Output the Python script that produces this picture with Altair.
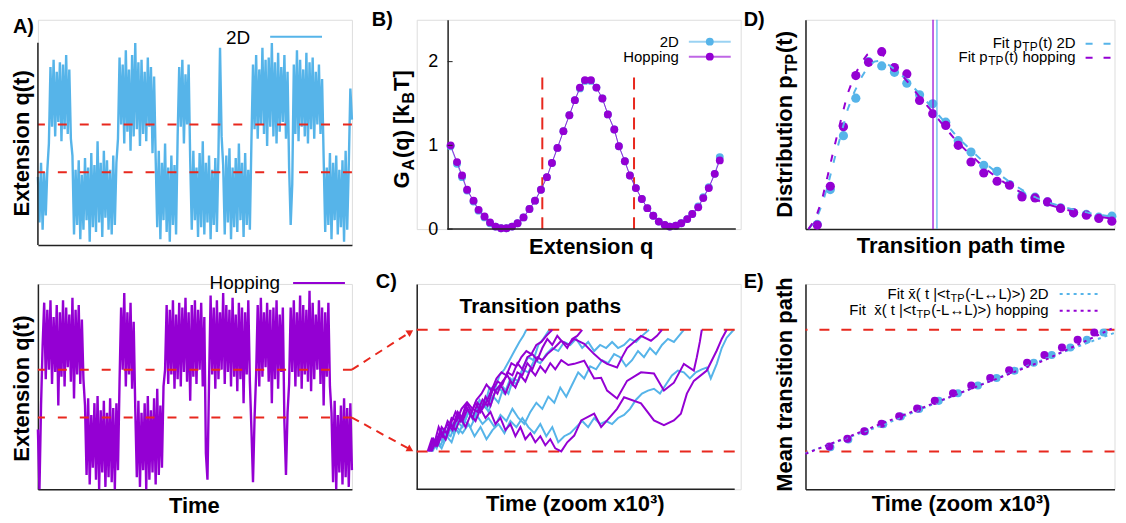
import altair as alt
import pandas as pd

FONT = "Liberation Sans"
BLUE = "#56B4E9"
PURPLE = "#9400D3"
RED = "#E8281E"
AX = "#222222"

# ---------------- data ----------------
# A) extension time series (state-hopping traces), sampled every 5 time units
Q_2D = [-1.2, -3.1, -0.6, -3.4, -1.0, -2.8, -0.9,
        0.2, 3.4, 0.9, 3.7, 0.5, 3.2, 1.1, 3.6, 0.3, 3.5, 0.8, 3.9, 0.6, 3.3, 0.4,
        -0.3, -3.6, -0.9, -3.2, -0.5, -3.8, -1.1, -3.4, -0.4, -3.0, -0.8, -3.9, -0.2, -3.3, -0.7,
        -3.5, 0.3, -3.1, -0.6, -3.7, -0.1, -2.9, -0.5, -3.4, -0.9, -3.6, -0.3, -3.2, -0.6,
        0.4, 3.8, 1.0, 3.5, 0.2, 4.1, 0.7, 3.3, -0.1, 3.9, 0.5, 4.4, 0.8, 3.6, 0.1, 3.7, 0.6, 3.2,
        0.3, 3.8, 0.9, 3.4, -0.2, 3.0,
        -0.4, -3.3, -0.1, -3.8, -0.6, -3.0, 0.2, -3.5, -0.8, -3.9, -0.3, -3.2, -0.7, -3.6,
        0.5, 3.4, 0.9, 3.7, 0.2, 3.1, 1.0, 3.5,
        -0.5, -3.4, -0.1, -3.0, -0.8, -3.7, -0.2, -3.3, 0.3, -3.6, -0.6, -3.1, -0.3, -3.8, -0.9,
        -3.2, -0.4, -3.5, -0.2,
        4.2, 0.5,
        -0.7, -3.6, -0.3, -3.1, 0.0, -3.8, -0.8, -3.3, -0.4, -3.5, 0.2, -3.0, -0.6, -3.7, -0.2,
        -3.2, -0.9, -3.4,
        0.3, 3.5, 0.8, 3.9, 0.4, 3.3, 1.0, 4.2, 0.6, 3.7, 0.1, 3.8, 0.9, 4.4, 0.5, 3.6, 0.2, 4.0,
        0.7, 3.4, 1.1, 3.9, 0.4, 3.2, -0.8, -3.2, -1.5, 3.5, 0.6, 4.1, 0.3, 3.7, 0.9, 3.3, 0.5,
        4.0, 0.2, 3.6, 0.8, 3.8, 0.4, 3.2, 1.0, 3.5, 0.6, 2.9,
        -0.4, -3.5, -0.8, -3.2, -0.2, -3.8, -0.6, -3.0, -0.3, -3.6, -0.9, -3.3, -0.5, -3.9, -0.1,
        -3.4, -0.7,
        2.5, 1.2]
Q_HOP = [-1.5, -4.0, -0.5,
         2.0, 3.8, 0.6, 3.5, 1.0, 3.9, 0.4, 3.2, 0.9, 3.7, -0.5, 3.4, 0.7, 3.9, 0.3, 3.6, 1.1,
         3.3, 0.5, 4.0, -0.2, 3.5, 0.8, 3.7, 0.4, 3.1, 0.6,
         -0.5, -3.4, -0.2, -3.8, -0.9, -3.1, -0.4, -3.6, -0.1, -4.0, -0.7, -3.3, -0.3, -3.9, -0.8,
         -3.5, -0.2, -3.7, -0.6, -4.0, -0.4, -3.2,
         0.5, 3.6, 1.0, 4.2, 0.3, 3.4, 0.8, 3.8, 0.2, 3.0,
         -0.6, -3.5, -0.3, -3.9, -0.8, -3.2, -0.4, -4.0, -0.1, -3.6, -0.7, -3.3, -0.2, -3.8, 0.2,
         -3.4, -0.5, -3.1, 0.3,
         1.0, 3.7, 0.4, 3.5, 0.8, 3.9, 0.2, 3.3, 0.6, 3.8, 0.3, 3.6, 0.9, 4.0, 0.5, 3.4, -0.3,
         3.7, 0.7, 3.9, 0.4, 3.5, 1.0, 3.8, 0.3, 3.2,
         -2.5, -3.6,
         0.5, 4.1, 0.8, 3.6, 0.2, 3.9, 0.6, 3.4, 1.0, 4.2, 0.4, 3.7, 0.9, 3.5, 0.3, 4.0, 0.7, 3.3,
         0.1, 3.8, 0.6, 3.6, -0.4, 3.4, 0.8, 3.9, 0.5,
         -1.5, -3.7, -1.0,
         0.8, 3.7, 0.3, 4.0, 0.7, 3.4, 1.1, 3.8, 0.5, 3.5, -0.4, 3.6, 0.6, 3.9, 0.2, 3.3, 0.9, 3.6,
         -1.2, -3.4, -0.8,
         0.4, 3.6, 0.9, 3.9, 0.3, 3.4, 0.7, 4.1, 0.2, 3.7, 0.8, 3.5, 0.5, 4.3, 0.1, 3.8, 0.6, 3.3,
         1.0, 3.9, 0.4, 3.6, -0.5, 3.4, 0.7, 3.8, 0.3,
         -0.8, -3.7, -0.3, -4.0, -0.9, -3.3, -0.5, -3.8, -0.2, -3.5, -0.6, -3.9, -0.4, -3.2]
STEP = 5
LEVELS = [-1.0, 1.0]          # +/- L boundaries

# B) free energy profiles
G_Q = [-3.00, -2.86, -2.75, -2.64, -2.50, -2.39, -2.26, -2.14, -2.02, -1.90, -1.78, -1.66,
       -1.54, -1.41, -1.28, -1.16, -1.03, -0.90, -0.79, -0.67, -0.54, -0.41, -0.29, -0.18,
       -0.07, 0.06, 0.18, 0.31, 0.43, 0.57, 0.67, 0.80, 0.91, 1.04, 1.17, 1.29, 1.42, 1.54,
       1.67, 1.78, 1.91, 2.03, 2.16, 2.27, 2.40, 2.51, 2.63, 2.76, 2.87]
G_2D = [0.99, 0.78, 0.62, 0.46, 0.33, 0.22, 0.14, 0.07, 0.03, 0.01, 0.01, 0.03, 0.07, 0.14,
        0.24, 0.34, 0.47, 0.62, 0.79, 0.97, 1.17, 1.36, 1.54, 1.68, 1.77, 1.77, 1.69, 1.56,
        1.37, 1.19, 0.99, 0.81, 0.64, 0.49, 0.36, 0.25, 0.16, 0.09, 0.05, 0.03, 0.04, 0.07,
        0.12, 0.18, 0.27, 0.38, 0.50, 0.66, 0.86]
G_HOP = [1.00, 0.80, 0.64, 0.47, 0.34, 0.23, 0.15, 0.08, 0.03, 0.01, 0.01, 0.03, 0.07, 0.14,
         0.24, 0.34, 0.47, 0.62, 0.79, 0.97, 1.17, 1.36, 1.54, 1.69, 1.78, 1.78, 1.69, 1.56,
         1.37, 1.19, 0.99, 0.81, 0.64, 0.49, 0.36, 0.25, 0.16, 0.09, 0.05, 0.03, 0.04, 0.07,
         0.12, 0.18, 0.26, 0.37, 0.49, 0.66, 0.82]
G_TICKS = [0, 1, 2]

# C) individual transition paths (time, extension)
PATHS_2D = [
    ([12, 16, 20, 24, 28, 33, 38, 43, 48, 53, 58, 63, 68, 73, 78, 83, 88, 93, 98, 103, 107, 110],
     [-1.0, -0.85, -0.95, -0.7, -0.8, -0.55, -0.65, -0.4, -0.5, -0.3, -0.4, -0.15, -0.25, 0.05,
      0.0, 0.25, 0.35, 0.5, 0.65, 0.8, 0.9, 1.0]),
    ([14, 18, 22, 27, 32, 37, 42, 47, 52, 57, 62, 67, 72, 77, 82, 87, 92, 97, 102, 107, 112, 117,
      122, 127, 133],
     [-1.0, -0.9, -0.75, -0.85, -0.6, -0.7, -0.45, -0.55, -0.35, -0.5, -0.3, -0.2, -0.35, -0.1,
      -0.2, 0.05, -0.05, 0.2, 0.15, 0.4, 0.55, 0.5, 0.75, 0.85, 1.0]),
    ([15, 19, 24, 29, 34, 40, 46, 52, 58, 64, 70, 76, 82, 88, 94, 100, 106, 112, 118, 124, 130,
      136, 142, 148, 154, 160, 166, 172, 178, 184, 190, 196, 202, 208, 214, 220, 226, 233],
     [-1.0, -0.8, -0.9, -0.7, -0.75, -0.5, -0.6, -0.35, -0.45, -0.2, -0.3, -0.1, 0.05, -0.05,
      0.2, 0.1, 0.35, 0.3, 0.5, 0.45, 0.6, 0.7, 0.65, 0.8, 0.75, 0.85, 0.7, 0.8, 0.65, 0.75, 0.7,
      0.8, 0.7, 0.75, 0.85, 0.8, 0.9, 1.0]),
    ([13, 17, 21, 26, 31, 36, 42, 48, 54, 60, 66, 72, 78, 84, 90, 96, 102, 108, 114, 120, 126,
      132, 138, 144, 150, 156, 162, 168, 174, 180, 186, 192, 198, 204, 210, 216, 222, 228, 234,
      240, 246, 252, 258, 263, 268],
     [-1.0, -0.8, -0.9, -0.65, -0.75, -0.55, -0.7, -0.5, -0.6, -0.4, -0.55, -0.45, -0.6, -0.4,
      -0.5, -0.3, -0.45, -0.55, -0.35, -0.2, -0.3, -0.1, -0.2, 0.05, -0.1, 0.1, 0.3, 0.2, 0.4,
      0.35, 0.5, 0.45, 0.6, 0.55, 0.4, 0.5, 0.65, 0.55, 0.7, 0.6, 0.75, 0.85, 0.8, 0.9, 1.0]),
    ([16, 20, 25, 30, 35, 40, 46, 52, 58, 64, 70, 76, 82, 88, 94, 100, 106, 112, 118, 124, 130,
      136, 142, 148, 154, 160, 166, 172, 178, 184, 190, 196, 202, 208, 214, 220, 226, 232, 238,
      244, 250, 256, 262, 268, 274, 280, 286, 291, 295, 301, 306, 311, 318],
     [-1.0, -0.85, -0.95, -0.75, -0.85, -0.6, -0.7, -0.55, -0.75, -0.6, -0.8, -0.65, -0.55,
      -0.7, -0.5, -0.6, -0.45, -0.6, -0.7, -0.55, -0.75, -0.6, -0.85, -0.75, -0.7, -0.6, -0.5,
      -0.6, -0.45, -0.55, -0.5, -0.55, -0.45, -0.4, -0.3, -0.15, -0.05, 0.0, 0.03, -0.05, 0.1,
      0.25, 0.33, 0.3, 0.2, 0.3, 0.35, 0.38, 0.2, 0.44, 0.7, 0.87, 1.0]),
]
PATHS_HOP = [
    ([12, 16, 20, 25, 30, 35, 40, 45, 50, 55, 60, 65, 70, 75, 80, 85, 90, 95, 100, 105, 110, 115,
      120, 125, 130, 136],
     [-1.0, -0.8, -0.9, -0.6, -0.7, -0.45, -0.5, -0.3, -0.2, -0.35, -0.15, -0.05, 0.1, 0.0, 0.2,
      0.3, 0.25, 0.45, 0.4, 0.55, 0.65, 0.6, 0.75, 0.8, 0.9, 1.0]),
    ([14, 18, 22, 26, 31, 36, 41, 46, 51, 56, 61, 66, 71, 76, 81, 86, 91, 96, 101, 106, 111, 116,
      121, 126, 131, 136, 141, 146, 151, 156, 161, 166],
     [-1.0, -0.85, -0.6, -0.75, -0.5, -0.6, -0.35, -0.45, -0.2, -0.3, -0.35, -0.15, -0.25, 0.0,
      0.15, 0.1, 0.3, 0.25, 0.45, 0.35, 0.55, 0.6, 0.5, 0.7, 0.85, 0.75, 0.9, 0.8, 0.7, 0.85,
      0.9, 1.0]),
    ([13, 17, 21, 26, 31, 36, 41, 46, 51, 56, 61, 66, 71, 76, 81, 86, 91, 96, 101, 106, 111, 116,
      121, 126, 131, 138, 145, 152, 158, 168, 178, 185, 191, 201, 206, 211, 218, 225, 235, 241,
      246],
     [-1.0, -0.8, -0.9, -0.7, -0.55, -0.65, -0.4, -0.5, -0.3, -0.45, -0.2, -0.3, -0.15, 0.05,
      -0.05, 0.15, 0.25, 0.1, 0.3, 0.25, 0.45, 0.35, 0.55, 0.5, 0.6, 0.7, 0.82, 0.75, 0.85, 0.77,
      0.6, 0.5, 0.44, 0.38, 0.55, 0.7, 0.8, 0.9, 0.82, 0.9, 1.0]),
    ([15, 19, 24, 29, 34, 39, 44, 49, 54, 59, 64, 69, 74, 79, 84, 89, 94, 99, 104, 109, 114, 119,
      124, 129, 134, 139, 145, 152, 158, 168, 178, 185, 191, 201, 211, 225, 238, 248, 258, 268,
      278, 281, 284, 286],
     [-1.0, -0.85, -0.65, -0.8, -0.55, -0.35, -0.5, -0.25, -0.4, -0.2, -0.35, -0.1, -0.25, 0.0,
      0.1, -0.05, 0.15, 0.05, 0.25, 0.15, 0.35, 0.25, 0.4, 0.3, 0.45, 0.35, 0.5, 0.42, 0.44,
      0.49, 0.2, 0.21, 0.0, -0.13, 0.16, 0.3, 0.28, 0.0, 0.13, 0.44, 0.33, 0.55, 0.8, 1.0]),
    ([11, 15, 19, 24, 29, 34, 39, 44, 49, 54, 59, 64, 69, 74, 79, 84, 89, 94, 99, 104, 109, 114,
      119, 124, 129, 134, 139, 145, 151, 158, 165, 178, 185, 191, 201, 208, 225, 238, 248, 258,
      265, 271, 278, 291, 301, 306, 311],
     [-1.0, -0.8, -0.9, -0.7, -0.8, -0.55, -0.65, -0.45, -0.6, -0.4, -0.5, -0.3, -0.45, -0.35,
      -0.55, -0.45, -0.65, -0.55, -0.75, -0.6, -0.8, -0.7, -0.85, -0.75, -0.9, -0.8, -0.95,
      -1.0, -0.85, -0.74, -0.49, -0.38, -0.6, -0.49, -0.3, -0.11, -0.21, -0.49, -0.57, -0.49,
      -0.38, -0.05, 0.16, 0.33, 0.66, 0.85, 1.0]),
]
C_TMAX = 319
# zoom arrows linking panel A (hopping) boundaries to panel C
ARROW_T = [-65, -6.4]
ARROW_UP = [0.344, 0.964]
ARROW_DN = [-0.443, -0.969]

# D) transition path time distributions
D_T = [0.12, 0.253, 0.387, 0.513, 0.643, 0.777, 0.907, 1.033, 1.163, 1.297, 1.43, 1.557,
       1.687, 1.817, 1.953, 2.08, 2.207, 2.34, 2.467, 2.60, 2.733, 2.863, 2.99, 3.123]
D_P2D = [0.047, 0.397, 0.937, 1.313, 1.68, 1.637, 1.573, 1.463, 1.347, 1.257, 1.073, 0.887,
         0.773, 0.64, 0.58, 0.447, 0.34, 0.32, 0.273, 0.213, 0.163, 0.147, 0.12, 0.13]
D_PHOP = [0.04, 0.43, 1.027, 1.54, 1.673, 1.78, 1.62, 1.557, 1.29, 1.157, 1.04, 0.84, 0.673,
          0.563, 0.48, 0.44, 0.323, 0.313, 0.273, 0.207, 0.163, 0.14, 0.107, 0.08]
FIT_T = [0.03, 0.10, 0.17, 0.23, 0.30, 0.37, 0.43, 0.50, 0.57, 0.63, 0.70, 0.77, 0.83, 0.90,
         1.03, 1.16, 1.30, 1.43, 1.56, 1.70, 1.83, 1.96, 2.10, 2.23, 2.36, 2.50, 2.63, 2.76,
         2.90, 3.03, 3.15]
FIT_2D = [0.0, 0.08, 0.25, 0.45, 0.72, 0.98, 1.2, 1.38, 1.52, 1.62, 1.68, 1.69, 1.66, 1.61,
          1.50, 1.36, 1.21, 1.06, 0.91, 0.78, 0.66, 0.56, 0.46, 0.38, 0.31, 0.26, 0.22, 0.19,
          0.16, 0.14, 0.12]
FIT_HOP = [0.0, 0.1, 0.3, 0.55, 0.85, 1.13, 1.36, 1.54, 1.67, 1.75, 1.78, 1.76, 1.71, 1.64,
           1.49, 1.33, 1.17, 1.01, 0.86, 0.73, 0.61, 0.51, 0.42, 0.35, 0.29, 0.24, 0.20, 0.17,
           0.14, 0.12, 0.10]
MEAN_TTP_HOP = 1.30
MEAN_TTP_2D = 1.34

# E) mean transition path
E_T2D = [0.25, 0.43, 0.597, 0.78, 0.957, 1.14, 1.337, 1.53, 1.73, 1.917, 2.097, 2.29, 2.47,
         2.657, 2.823, 2.99]
E_V2D = [-0.93, -0.803, -0.672, -0.552, -0.426, -0.301, -0.169, -0.044, 0.082, 0.208, 0.328,
         0.459, 0.585, 0.710, 0.836, 0.956]
E_THOP = [0.24, 0.42, 0.59, 0.763, 0.94, 1.12, 1.297, 1.48, 1.663, 1.853, 2.043, 2.223, 2.397,
          2.573, 2.73, 2.897]
E_VHOP = [-0.918, -0.792, -0.667, -0.546, -0.421, -0.295, -0.169, -0.044, 0.082, 0.208, 0.333,
          0.459, 0.585, 0.710, 0.836, 0.956]
EFIT_T = [0.0, 0.8, 1.55, 2.4, 3.1]
EFIT_2D = [-1.03, -0.55, -0.04, 0.52, 0.95]
EFIT_HOP = [-1.04, -0.52, -0.04, 0.50, 1.04]

# ---------------- helpers ----------------
ONE = pd.DataFrame({"k": [0]})
REG = {' ': 278, '\u00a0': 278, '(': 333, ')': 333, '-': 333, '<': 584, '>': 584, '|': 260,
       '2': 556, 'D': 722, 'F': 611, 'i': 222, 't': 278, 'x': 500, 'p': 556, 'h': 556,
       'o': 556, 'n': 556, 'g': 556, 'L': 556, 'T': 611, 'P': 667, '\u2194': 1000, '\u0304': 0}
BOLD = {'D': 722, 'i': 278, 's': 556, 't': 333, 'r': 389, 'b': 611, 'u': 611, 'o': 611,
        'n': 611, ' ': 278, 'p': 611, 'T': 611, 'P': 667, '(': 333, ')': 333, 'G': 778,
        'A': 722, 'q': 611, '[': 333, ']': 333, 'k': 556, 'B': 722}
GAP = 0.6


def tw(s, size, bold):
    tab = BOLD if bold else REG
    return sum(tab.get(c, 556) for c in s) * size / 1000.0


def txt(text, x, y, size, bold=False, angle=0, align="left", color="black"):
    kw = dict(text=text, fontSize=size, font=FONT, fontWeight="bold" if bold else "normal",
              align=align, baseline="alphabetic", color=color)
    if angle:
        kw["angle"] = angle
    return alt.Chart(ONE).mark_text(**kw).encode(x=alt.value(x), y=alt.value(y))


def vtitle(segs, xb, yc, gap=1.0):
    total = sum(tw(t, s, b) for t, s, b, _ in segs) + gap * (len(segs) - 1)
    y = yc + total / 2
    out = []
    for t, s, b, sh in segs:
        out.append(txt(t, xb + sh, y, s, b, angle=270))
        y -= tw(t, s, b) + gap
    return out


def hright(segs, xr, yb):
    total = sum(tw(t, s, b) for t, s, b, _ in segs) + GAP * (len(segs) - 1)
    x = xr - total
    out = []
    for t, s, b, sh in segs:
        out.append(txt(t, x, yb + sh, s, b))
        x += tw(t, s, b) + GAP
    return out


def legline(x1, x2, y, color, width=2, dash=None, opacity=1.0):
    kw = dict(color=color, strokeWidth=width, opacity=opacity)
    if dash:
        kw["strokeDash"] = dash
    return alt.Chart(ONE).mark_rule(**kw).encode(x=alt.value(x1), x2=alt.value(x2), y=alt.value(y))


def sc(lo, hi):
    return alt.Scale(domain=[lo, hi], nice=False, zero=False)


NOAX = alt.Axis(title=None, labels=False, ticks=False, grid=False, domainColor=AX, domainWidth=1.5)
NODOM = alt.Axis(title=None, labels=False, ticks=False, grid=False, domain=False)

# ---------------- panel A (top, 2D) ----------------
df_a2 = pd.DataFrame({"t": [i * STEP for i in range(len(Q_2D))], "q": Q_2D})
ya_top = sc(-4.042, 5.375)
a_top = alt.layer(
    alt.Chart(df_a2).mark_line(color=BLUE, strokeWidth=2.4).encode(
        x=alt.X("t:Q", scale=sc(0, 1000), axis=NOAX),
        y=alt.Y("q:Q", scale=ya_top, axis=None)),
    alt.Chart(pd.DataFrame({"q": LEVELS})).mark_rule(color=RED, strokeWidth=2, strokeDash=[9, 13]).encode(
        y=alt.Y("q:Q", axis=None)),
    alt.Chart(pd.DataFrame({"t": [0], "q": [-4.042], "q2": [4.417]})).mark_rule(
        color=AX, strokeWidth=1.5).encode(x="t:Q", y=alt.Y("q:Q", axis=None), y2="q2:Q"),
    legline(233, 285, 17, BLUE),
    txt("2D", 213, 24, 19, align="right"),
    txt("A)", -25, 13, 20, bold=True),
    txt("Extension q(t)", -9, 124, 22, bold=True, angle=270, align="center"),
).properties(width=315, height=226)

# ---------------- panel A (bottom, hopping) ----------------
df_ah = pd.DataFrame({"t": [i * STEP for i in range(len(Q_HOP))], "q": Q_HOP})
a_bot = alt.layer(
    alt.Chart(df_ah).mark_line(color=PURPLE, strokeWidth=2.4).encode(
        x=alt.X("t:Q", scale=sc(0, 1000), axis=NOAX),
        y=alt.Y("q:Q", scale=sc(-4.0, 4.583), axis=NOAX)),
    alt.Chart(pd.DataFrame({"q": LEVELS})).mark_rule(color=RED, strokeWidth=2, strokeDash=[9, 13]).encode(
        y=alt.Y("q:Q")),
    legline(256, 308, -1, PURPLE),
    txt("Hopping", 243, 5, 19, align="right"),
    txt("Extension q(t)", -9, 105, 22, bold=True, angle=270, align="center"),
    txt("Time", 157, 230, 22, bold=True, align="center"),
).properties(width=315, height=206)

# ---------------- panel B ----------------
df_b2 = pd.DataFrame({"q": G_Q, "g": G_2D})
df_bh = pd.DataFrame({"q": G_Q, "g": G_HOP})
xb = alt.X("q:Q", scale=sc(-3.739, 3.326), axis=NODOM)
yb = alt.Y("g:Q", scale=sc(0, 2.5),
           axis=alt.Axis(title=None, values=G_TICKS, format="d", ticks=False, grid=False,
                         domainColor=AX, domainWidth=1.5, offset=-31, labelPadding=10,
                         labelFontSize=18, labelFont=FONT, labelColor="black"))
b_panel = alt.layer(
    alt.Chart(pd.DataFrame({"q": LEVELS, "g": [0, 0], "g2": [1.9, 1.9]})).mark_rule(
        color=RED, strokeWidth=2, strokeDash=[12, 8]).encode(x=xb, y=yb, y2="g2:Q"),
    alt.Chart(df_b2).mark_line(color=BLUE, strokeWidth=1, opacity=0.8).encode(x=xb, y=yb),
    alt.Chart(df_b2).mark_point(color=BLUE, filled=True, size=62, opacity=1).encode(x=xb, y=yb),
    alt.Chart(df_bh).mark_line(color=PURPLE, strokeWidth=1, opacity=0.8).encode(x=xb, y=yb),
    alt.Chart(df_bh).mark_point(color=PURPLE, filled=True, size=62, opacity=1).encode(x=xb, y=yb),
    alt.Chart(pd.DataFrame({"q": [-3.07], "q2": [3.22], "g": [0]})).mark_rule(
        color=AX, strokeWidth=1.5).encode(x="q:Q", x2="q2:Q", y="g:Q"),
    alt.Chart(pd.DataFrame({"g": G_TICKS})).mark_rule(color=AX, strokeWidth=1).encode(
        y="g:Q", x=alt.value(31), x2=alt.value(36)),
    legline(273, 315, 22, BLUE, opacity=0.6),
    alt.Chart(ONE).mark_point(color=BLUE, filled=True, size=62, opacity=1).encode(
        x=alt.value(294), y=alt.value(22)),
    legline(273, 315, 37, PURPLE, opacity=0.6),
    alt.Chart(ONE).mark_point(color=PURPLE, filled=True, size=62, opacity=1).encode(
        x=alt.value(294), y=alt.value(37)),
    txt("2D", 263, 27, 15, align="right"),
    txt("Hopping", 263, 42, 15, align="right"),
    txt("B)", -45, 6, 20, bold=True),
    txt("Extension q", 175, 235, 22, bold=True, align="center"),
    *vtitle([("G", 22, True, 0), ("A", 16, True, 5), ("(q) [k", 22, True, 0),
             ("B", 16, True, 5), ("T]", 22, True, 0)], -8, 110),
).properties(width=325, height=210)

# ---------------- panel C ----------------
rows = []
for i, (ts, vs) in enumerate(PATHS_2D):
    rows += [{"t": t, "v": v, "path": "b%d" % i} for t, v in zip(ts, vs)]
df_c2 = pd.DataFrame(rows)
rows = []
for i, (ts, vs) in enumerate(PATHS_HOP):
    rows += [{"t": t, "v": v, "path": "p%d" % i} for t, v in zip(ts, vs)]
df_ch = pd.DataFrame(rows)
xc_s = sc(0, 325)
xc = alt.X("t:Q", scale=xc_s, axis=NODOM)
yc = alt.Y("v:Q", scale=sc(-1.623, 1.754), axis=NOAX)
df_arrow = pd.DataFrame({"t": ARROW_T * 2, "v": ARROW_UP + ARROW_DN, "a": ["u", "u", "d", "d"]})
df_head = pd.DataFrame({"t": [ARROW_T[1]], "v": [ARROW_UP[1]]})
df_head2 = pd.DataFrame({"t": [ARROW_T[1]], "v": [ARROW_DN[1]]})
c_panel = alt.layer(
    alt.Chart(df_c2).mark_line(color=BLUE, strokeWidth=2).encode(x=xc, y=yc, detail="path:N"),
    alt.Chart(pd.DataFrame({"t": [0, 0], "t1": [C_TMAX, C_TMAX], "v": LEVELS})).mark_rule(
        color=RED, strokeWidth=2, strokeDash=[11, 11]).encode(x="t:Q", x2="t1:Q", y="v:Q"),
    alt.Chart(pd.DataFrame({"t": [0], "t1": [C_TMAX], "v": [-1.623]})).mark_rule(
        color=AX, strokeWidth=1.5).encode(x="t:Q", x2="t1:Q", y="v:Q"),
    alt.Chart(df_ch).mark_line(color=PURPLE, strokeWidth=2).encode(x="t:Q", y="v:Q", detail="path:N"),
    alt.Chart(df_arrow).mark_line(color=RED, strokeWidth=2, strokeDash=[8, 6]).encode(
        x="t:Q", y="v:Q", detail="a:N"),
    alt.Chart(df_head).mark_point(shape="triangle-right", filled=True, color=RED, size=60,
                                  opacity=1, angle=327).encode(x="t:Q", y="v:Q"),
    alt.Chart(df_head2).mark_point(shape="triangle-right", filled=True, color=RED, size=60,
                                   opacity=1, angle=29).encode(x="t:Q", y="v:Q"),
    txt("C)", -41, 4, 20, bold=True),
    txt("Transition paths", 124, 29, 21, bold=True, align="center"),
    txt("Time (zoom x10\u00b3)", 159, 228, 22, bold=True, align="center"),
).properties(width=325, height=206)

# ---------------- panel D ----------------
df_d = pd.DataFrame({"t": D_T, "p2": D_P2D, "ph": D_PHOP})
df_fit = pd.DataFrame({"t": FIT_T, "f2": FIT_2D, "fh": FIT_HOP})
xd = alt.X("t:Q", scale=sc(0, 3.15), axis=NOAX)
yd_s = sc(0, 2.1)
d_panel = alt.layer(
    alt.Chart(df_d).mark_point(color=BLUE, filled=True, size=85, opacity=1).encode(
        x=xd, y=alt.Y("p2:Q", scale=yd_s, axis=NOAX)),
    alt.Chart(df_d).mark_point(color=PURPLE, filled=True, size=85, opacity=1).encode(
        x=xd, y=alt.Y("ph:Q")),
    alt.Chart(df_fit).mark_line(color=BLUE, strokeWidth=2, strokeDash=[7, 11]).encode(
        x=xd, y=alt.Y("f2:Q")),
    alt.Chart(df_fit).mark_line(color=PURPLE, strokeWidth=2, strokeDash=[7, 11]).encode(
        x=xd, y=alt.Y("fh:Q")),
    alt.Chart(pd.DataFrame({"t": [MEAN_TTP_HOP]})).mark_rule(color=PURPLE, strokeWidth=1.2).encode(x="t:Q"),
    alt.Chart(pd.DataFrame({"t": [MEAN_TTP_2D]})).mark_rule(color=BLUE, strokeWidth=1.2).encode(x="t:Q"),
    legline(281, 310, 24, BLUE, dash=[7, 11]),
    legline(281, 310, 38, PURPLE, dash=[7, 11]),
    *hright([("Fit p", 15, False, 0), ("TP", 12, False, 3), ("(t) 2D", 15, False, 0)], 271, 28),
    *hright([("Fit p", 15, False, 0), ("TP", 12, False, 3), ("(t) hopping", 15, False, 0)], 271, 42),
    txt("D)", -62, 6, 20, bold=True),
    txt("Transition path time", 156, 234, 22, bold=True, align="center"),
    *vtitle([("Distribution p", 22, True, 0), ("TP", 16, True, 5), ("(t)", 22, True, 0)], -14, 105),
).properties(width=310, height=210)

# ---------------- panel E ----------------
df_e2 = pd.DataFrame({"t": E_T2D, "v": E_V2D})
df_eh = pd.DataFrame({"t": E_THOP, "v": E_VHOP})
df_ef = pd.DataFrame({"t": EFIT_T, "f2": EFIT_2D, "fh": EFIT_HOP})
xe = alt.X("t:Q", scale=sc(0, 3.10), axis=NOAX)
ye = alt.Y("v:Q", scale=sc(-1.623, 1.754), axis=NOAX)
e_panel = alt.layer(
    alt.Chart(pd.DataFrame({"v": LEVELS})).mark_rule(color=RED, strokeWidth=2, strokeDash=[10, 12]).encode(y=ye),
    alt.Chart(df_e2).mark_point(color=BLUE, filled=True, size=65, opacity=1).encode(x=xe, y=ye),
    alt.Chart(df_eh).mark_point(color=PURPLE, filled=True, size=65, opacity=1).encode(x=xe, y=ye),
    alt.Chart(df_ef).mark_line(color=BLUE, strokeWidth=2, strokeDash=[3, 4]).encode(x=xe, y=alt.Y("f2:Q")),
    alt.Chart(df_ef).mark_line(color=PURPLE, strokeWidth=2, strokeDash=[3, 4]).encode(x=xe, y=alt.Y("fh:Q")),
    legline(255, 296, 10, BLUE, dash=[3, 4]),
    legline(255, 296, 27, PURPLE, dash=[3, 4]),
    *hright([("Fit x\u0304( t |<t", 15, False, 0), ("TP", 11, False, 3),
             ("(-L\u2194L)>) 2D", 15, False, 0)], 244, 15),
    *hright([("Fit\u00a0 x\u0304( t |<t", 15, False, 0), ("TP", 11, False, 3),
             ("(-L\u2194L)>) hopping", 15, False, 0)], 244, 31),
    txt("E)", -62, 4, 20, bold=True),
    txt("Time (zoom x10\u00b3)", 156, 228, 22, bold=True, align="center"),
    txt("Mean transition path", -14, 101, 22, bold=True, angle=270, align="center"),
).properties(width=310, height=206)

chart = alt.concat(
    a_top, b_panel, d_panel,
    a_bot, c_panel, e_panel,
    columns=3, spacing={"row": 39, "column": 65}, bounds="flush", align="each",
).properties(
    padding={"left": 2, "top": 0, "right": -1.5, "bottom": -2}
).configure_view(stroke=None, strokeWidth=0).configure(font=FONT)

chart.save("out.html", embed_options={"renderer": "svg", "actions": False})
